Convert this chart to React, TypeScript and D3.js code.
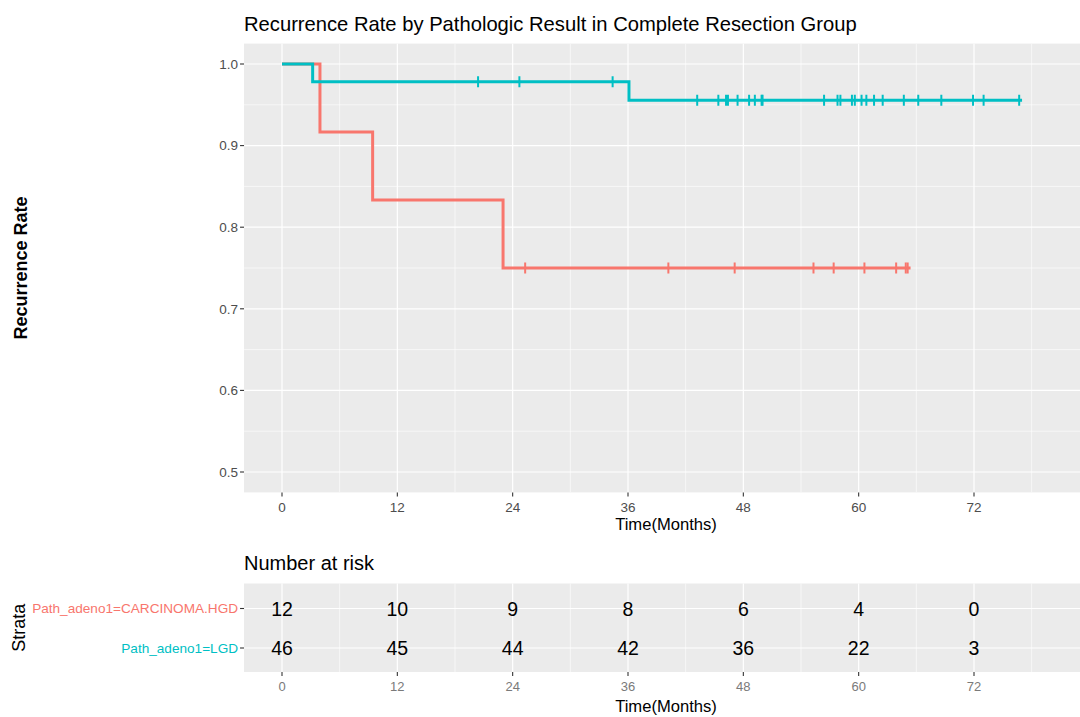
import React from 'react';
import * as d3 from 'd3';

// strata
const strata = ['Path_adeno1=CARCINOMA.HGD', 'Path_adeno1=LGD'];
const strataColors = ['#F8766D', '#00BFC4'];

// step curves (time in months, survival after the step)
const hgdTimes = [0, 3.95, 9.43, 23.0, 65.4];
const hgdSurv = [1.0, 0.9167, 0.8333, 0.75, 0.75];
const lgdTimes = [0, 3.19, 36.1, 77.0];
const lgdSurv = [1.0, 0.9783, 0.9555, 0.9555];

// censor marks
const hgdCensor = [25.3, 40.2, 47.1, 55.3, 57.4, 60.6, 63.9, 64.9, 65.1];
const lgdCensor = [
  20.4, 24.7, 34.4, 43.2, 45.4, 46.2, 46.4, 47.4, 48.6, 49.2, 49.9, 50.0,
  56.4, 57.8, 58.1, 59.3, 59.6, 60.3, 60.8, 61.6, 62.5, 64.7, 66.2, 68.6,
  71.9, 73.0, 76.7,
];

// number at risk table
const riskTimes = [0, 12, 24, 36, 48, 60, 72];
const hgdRisk = [12, 10, 9, 8, 6, 4, 0];
const lgdRisk = [46, 45, 44, 42, 36, 22, 3];

const xTicks = [0, 12, 24, 36, 48, 60, 72];
const xMinor = [6, 18, 30, 42, 54, 66, 78];
const yTicks = [0.5, 0.6, 0.7, 0.8, 0.9, 1.0];
const yMinor = [0.55, 0.65, 0.75, 0.85, 0.95];

const FONT = '"Liberation Sans", Arial, sans-serif';

export default function App() {
  const x = d3.scaleLinear().domain([0, 72]).range([282, 974]);
  const y = d3.scaleLinear().domain([0.5, 1.0]).range([472, 64]);
  const panelL = x(-3.95);
  const panelR = 1082;
  const panelT = y(1.025);
  const panelB = y(0.475);

  const riskT = 583.5;
  const riskB = 672;
  const row = d3.scalePoint<string>().domain(strata).range([608.5, 648]);

  const line = d3
    .line<[number, number]>()
    .x((d) => x(d[0]))
    .y((d) => y(d[1]))
    .curve(d3.curveStepAfter);

  const curves = [
    { times: hgdTimes, surv: hgdSurv, censor: hgdCensor, color: strataColors[0] },
    { times: lgdTimes, surv: lgdSurv, censor: lgdCensor, color: strataColors[1] },
  ];

  const survAt = (times: number[], surv: number[], t: number) => {
    let s = surv[0];
    times.forEach((tt, i) => {
      if (tt <= t) s = surv[i];
    });
    return s;
  };

  const tickCol = '#333333';
  const labCol = '#4D4D4D';

  return (
    <svg
      width={1080}
      height={717}
      style={{ position: 'absolute', left: 0, top: 0, background: '#fff' }}
      fontFamily={FONT}
    >
      <defs>
        <clipPath id="mainclip">
          <rect x={panelL} y={panelT} width={panelR - panelL} height={panelB - panelT} />
        </clipPath>
      </defs>

      {/* title */}
      <text x={244} y={31} fontSize={20.2} fill="#000">
        Recurrence Rate by Pathologic Result in Complete Resection Group
      </text>

      {/* main panel */}
      <rect x={panelL} y={panelT} width={panelR - panelL} height={panelB - panelT} fill="#EBEBEB" />
      <g clipPath="url(#mainclip)">
        {yMinor.map((v) => (
          <line key={'ym' + v} x1={panelL} x2={panelR} y1={y(v)} y2={y(v)} stroke="#fff" strokeWidth={0.6} />
        ))}
        {xMinor.map((v) => (
          <line key={'xm' + v} x1={x(v)} x2={x(v)} y1={panelT} y2={panelB} stroke="#fff" strokeWidth={0.6} />
        ))}
        {yTicks.map((v) => (
          <line key={'yM' + v} x1={panelL} x2={panelR} y1={y(v)} y2={y(v)} stroke="#fff" strokeWidth={1.2} />
        ))}
        {xTicks.map((v) => (
          <line key={'xM' + v} x1={x(v)} x2={x(v)} y1={panelT} y2={panelB} stroke="#fff" strokeWidth={1.2} />
        ))}

        {curves.map((c, i) => (
          <g key={'c' + i}>
            <path
              d={line(c.times.map((t, j) => [t, c.surv[j]] as [number, number])) || ''}
              fill="none"
              stroke={c.color}
              strokeWidth={3}
            />
            {c.censor.map((t, j) => {
              const cy = y(survAt(c.times, c.surv, t));
              return (
                <line
                  key={j}
                  x1={x(t)}
                  x2={x(t)}
                  y1={cy - 5.5}
                  y2={cy + 5.5}
                  stroke={c.color}
                  strokeWidth={2}
                />
              );
            })}
          </g>
        ))}
      </g>

      {/* y axis */}
      {yTicks.map((v) => (
        <g key={'yt' + v}>
          <line x1={panelL - 4} x2={panelL} y1={y(v)} y2={y(v)} stroke={tickCol} strokeWidth={1.1} />
          <text x={panelL - 6} y={y(v)} dy="0.35em" textAnchor="end" fontSize={13.5} fill={labCol}>
            {v.toFixed(1)}
          </text>
        </g>
      ))}
      <text
        transform={`translate(27,${(panelT + panelB) / 2}) rotate(-90)`}
        textAnchor="middle"
        fontSize={18}
        fontWeight="bold"
        fill="#000"
      >
        Recurrence Rate
      </text>

      {/* x axis main */}
      {xTicks.map((v) => (
        <g key={'xt' + v}>
          <line x1={x(v)} x2={x(v)} y1={panelB} y2={panelB + 4} stroke={tickCol} strokeWidth={1.1} />
          <text x={x(v)} y={512} textAnchor="middle" fontSize={13.5} fill={labCol}>
            {v}
          </text>
        </g>
      ))}
      <text x={666} y={530} textAnchor="middle" fontSize={16.6} fill="#000">
        Time(Months)
      </text>

      {/* risk table */}
      <text x={244} y={570} fontSize={20} fill="#000">
        Number at risk
      </text>
      <rect x={panelL} y={riskT} width={panelR - panelL} height={riskB - riskT} fill="#EBEBEB" />
      {xMinor.map((v) => (
        <line key={'rxm' + v} x1={x(v)} x2={x(v)} y1={riskT} y2={riskB} stroke="#fff" strokeWidth={0.6} />
      ))}
      {strata.map((s) => (
        <line key={'rh' + s} x1={panelL} x2={panelR} y1={row(s)} y2={row(s)} stroke="#fff" strokeWidth={1.2} />
      ))}
      {xTicks.map((v) => (
        <line key={'rxM' + v} x1={x(v)} x2={x(v)} y1={riskT} y2={riskB} stroke="#fff" strokeWidth={1.2} />
      ))}
      {[hgdRisk, lgdRisk].map((vals, i) => (
        <g key={'rv' + i}>
          {vals.map((n, j) => (
            <text
              key={j}
              x={x(riskTimes[j])}
              y={row(strata[i])}
              dy="0.36em"
              textAnchor="middle"
              fontSize={19.5}
              fill="#000"
            >
              {n}
            </text>
          ))}
        </g>
      ))}
      {strata.map((s, i) => (
        <g key={'rs' + s}>
          <line x1={panelL - 4} x2={panelL} y1={row(s)} y2={row(s)} stroke={tickCol} strokeWidth={1.1} />
          <text x={panelL - 6} y={row(s)} dy="0.35em" textAnchor="end" fontSize={13.6} fill={strataColors[i]}>
            {s}
          </text>
        </g>
      ))}
      <text
        transform={`translate(25,${(riskT + riskB) / 2}) rotate(-90)`}
        textAnchor="middle"
        fontSize={18}
        fill="#000"
      >
        Strata
      </text>
      {xTicks.map((v) => (
        <g key={'rxt' + v}>
          <line x1={x(v)} x2={x(v)} y1={riskB} y2={riskB + 4} stroke={tickCol} strokeWidth={1.1} />
          <text x={x(v)} y={691} textAnchor="middle" fontSize={13} fill="#7A7A7A">
            {v}
          </text>
        </g>
      ))}
      <text x={666} y={712} textAnchor="middle" fontSize={16.6} fill="#000">
        Time(Months)
      </text>
    </svg>
  );
}
